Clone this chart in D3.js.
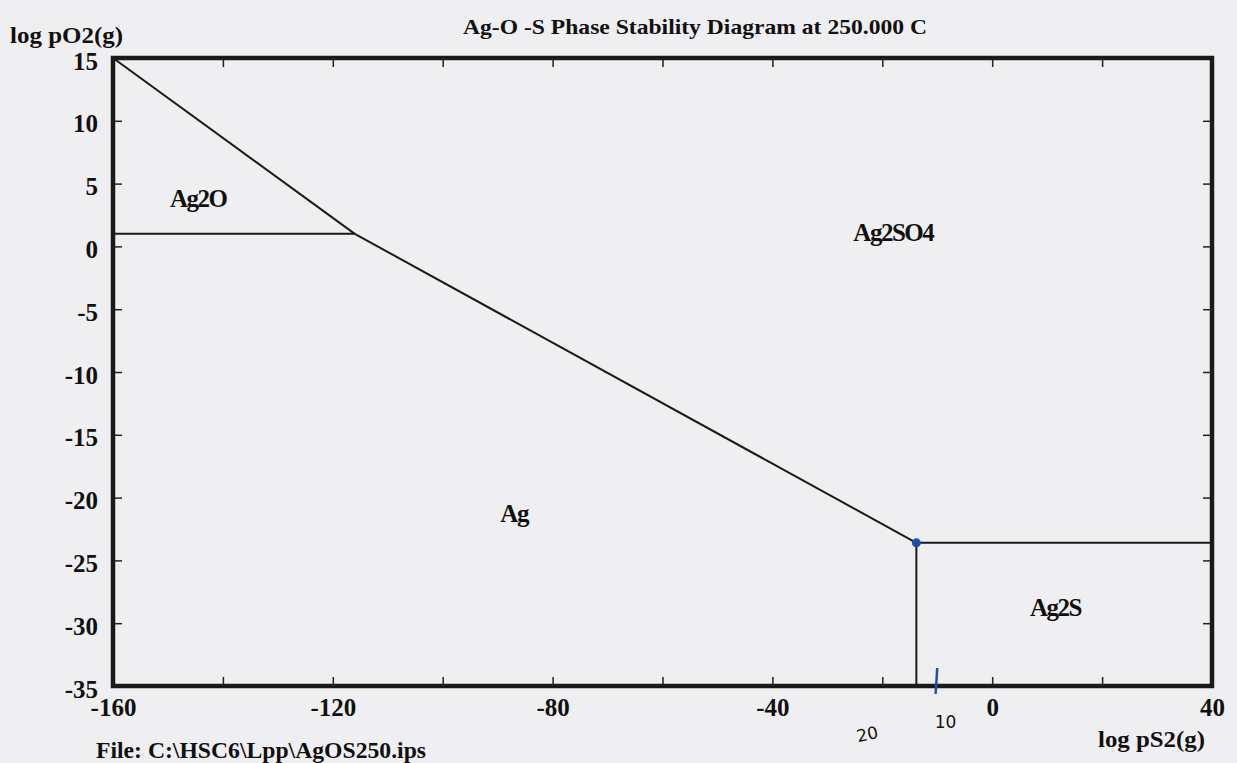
<!DOCTYPE html>
<html>
<head>
    <meta charset="utf-8">
    <title>Ag-O-S Phase Stability Diagram</title>
    <script src="https://d3js.org/d3.v7.min.js"></script>
    <style>
        body {
            margin: 0;
            overflow: hidden;
            background: #efeff1;
        }
        text {
            font-family: "Liberation Serif", "Times New Roman", serif;
            font-weight: bold;
            fill: #111;
        }
    </style>
</head>
<body>
    <div id="viz"></div>
    <script>
        // axis ranges and ticks
        const xDomain = [-160, 40];
        const yDomain = [-35, 15];
        const xTicks = [-160, -140, -120, -100, -80, -60, -40, -20, 0, 20, 40];
        const xLabels = [-160, -120, -80, -40, 0, 40];
        const yTicks = [-35, -30, -25, -20, -15, -10, -5, 0, 5, 10, 15];

        // phase boundaries, [log pS2, log pO2]
        const ag2oAg = [[-160, 1.0], [-116, 1.0]];
        const ag2oAg2so4 = [[-160, 15], [-116, 1.0]];
        const agAg2so4 = [[-116, 1.0], [-13.8, -23.6]];
        const ag2sAg2so4 = [[-13.8, -23.6], [40, -23.6]];
        const agAg2s = [[-13.8, -23.6], [-13.8, -35]];

        // phase labels
        const phases = [
            { name: 'Ag2O', x: -144.5, y: 3.6 },
            { name: 'Ag2SO4', x: -18, y: 0.9 },
            { name: 'Ag', x: -87, y: -21.5 },
            { name: 'Ag2S', x: 11.5, y: -29.0 }
        ];

        const width = 1237;
        const height = 763;
        const margin = { left: 113, right: 25, top: 58, bottom: 77 };

        const svg = d3.select('#viz')
            .append('svg')
            .attr('width', width)
            .attr('height', height);

        const x = d3.scaleLinear().domain(xDomain).range([margin.left, width - margin.right]);
        const y = d3.scaleLinear().domain(yDomain).range([height - margin.bottom, margin.top]);

        const fmt = d => String(d);

        // ticks (inward)
        svg.append('g')
            .attr('transform', `translate(0,${y(-35)})`)
            .call(d3.axisBottom(x).tickValues(xTicks).tickSize(-9).tickFormat(''))
            .call(g => g.select('.domain').remove());
        svg.append('g')
            .attr('transform', `translate(0,${y(15)})`)
            .call(d3.axisTop(x).tickValues(xTicks).tickSize(-9).tickFormat(''))
            .call(g => g.select('.domain').remove());
        svg.append('g')
            .attr('transform', `translate(${x(-160)},0)`)
            .call(d3.axisLeft(y).tickValues(yTicks).tickSize(-9).tickFormat(''))
            .call(g => g.select('.domain').remove());
        svg.append('g')
            .attr('transform', `translate(${x(40)},0)`)
            .call(d3.axisRight(y).tickValues(yTicks).tickSize(-9).tickFormat(''))
            .call(g => g.select('.domain').remove());
        svg.selectAll('.tick line').attr('stroke', '#222').attr('stroke-width', 1.5);

        // tick labels
        svg.append('g')
            .attr('transform', `translate(0,${y(-35) + 9})`)
            .call(d3.axisBottom(x).tickValues(xLabels).tickSize(0).tickFormat(fmt))
            .call(g => g.select('.domain').remove());
        svg.append('g')
            .attr('transform', `translate(${x(-160) - 12},3)`)
            .call(d3.axisLeft(y).tickValues(yTicks).tickSize(0).tickFormat(fmt))
            .call(g => g.select('.domain').remove());
        svg.selectAll('.tick text')
            .style('font-size', '25px')
            .style('font-family', '"Liberation Serif", serif')
            .style('font-weight', 'bold')
            .attr('fill', '#111');

        // frame
        svg.append('rect')
            .attr('x', x(-160))
            .attr('y', y(15))
            .attr('width', x(40) - x(-160))
            .attr('height', y(-35) - y(15))
            .attr('fill', 'none')
            .attr('stroke', '#1a1a1a')
            .attr('stroke-width', 4.5);

        // boundaries
        const line = d3.line().x(d => x(d[0])).y(d => y(d[1]));
        [ag2oAg, ag2oAg2so4, agAg2so4, ag2sAg2so4, agAg2s].forEach(seg => {
            svg.append('path')
                .attr('d', line(seg))
                .attr('fill', 'none')
                .attr('stroke', '#1a1a1a')
                .attr('stroke-width', 2);
        });

        // phase names
        svg.selectAll('.phase')
            .data(phases)
            .enter().append('text')
            .attr('class', 'phase')
            .attr('x', d => x(d.x))
            .attr('y', d => y(d.y))
            .attr('text-anchor', 'middle')
            .attr('dominant-baseline', 'middle')
            .style('font-size', '25px')
            .attr('letter-spacing', -1.5)
            .text(d => d.name);

        // titles
        svg.append('text')
            .attr('x', 463).attr('y', 34)
            .style('font-size', '22px')
            .attr('textLength', 464)
            .attr('lengthAdjust', 'spacingAndGlyphs')
            .text('Ag-O -S Phase Stability Diagram at  250.000 C');
        svg.append('text')
            .attr('x', 10).attr('y', 43)
            .style('font-size', '23px')
            .attr('textLength', 113)
            .attr('lengthAdjust', 'spacingAndGlyphs')
            .text('log pO2(g)');
        svg.append('text')
            .attr('x', 1098).attr('y', 747)
            .style('font-size', '23px')
            .attr('textLength', 107)
            .attr('lengthAdjust', 'spacingAndGlyphs')
            .text('log pS2(g)');
        svg.append('text')
            .attr('x', 96).attr('y', 758)
            .style('font-size', '23px')
            .attr('textLength', 330)
            .attr('lengthAdjust', 'spacingAndGlyphs')
            .text('File: C:\\HSC6\\Lpp\\AgOS250.ips');

        // blue pen marks
        const pen = '#1f4fa8';
        svg.append('circle')
            .attr('cx', x(-13.8)).attr('cy', y(-23.6))
            .attr('r', 4.5).attr('fill', pen);
        svg.append('line')
            .attr('x1', x(-10)).attr('x2', x(-10.3))
            .attr('y1', y(-35) - 18).attr('y2', y(-35) + 8)
            .attr('stroke', pen).attr('stroke-width', 2.5);
        svg.append('text')
            .attr('x', x(-8.5)).attr('y', y(-35) + 42)
            .attr('text-anchor', 'middle')
            .style('font-size', '17px').style('font-weight', 'normal')
            .style('font-family', '"DejaVu Sans", sans-serif')
            .attr('fill', pen)
            .text('10');
        svg.append('text')
            .attr('x', x(-22.5)).attr('y', y(-35) + 54)
            .attr('text-anchor', 'middle')
            .style('font-size', '17px').style('font-weight', 'normal')
            .style('font-family', '"DejaVu Sans", sans-serif')
            .attr('fill', pen)
            .attr('transform', `rotate(-12,${x(-22.5)},${y(-35) + 54})`)
            .text('20');
    </script>
</body>
</html>
